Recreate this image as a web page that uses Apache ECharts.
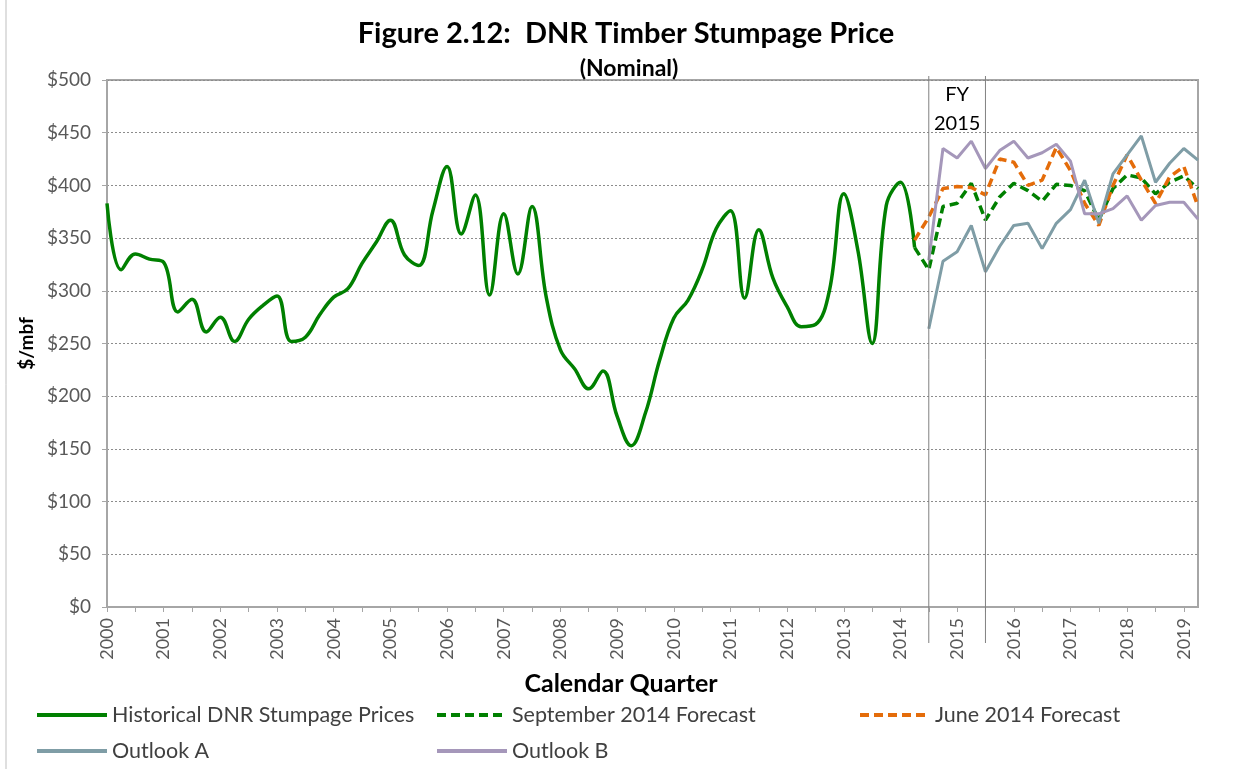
<!DOCTYPE html>
<html>
<head>
	<meta charset="UTF-8">
	<title>DNR Timber Stumpage Price</title>
	<script src="https://cdn.jsdelivr.net/npm/echarts@6/dist/echarts.min.js"></script>
	<style>
		html, body { margin: 0; padding: 0; background: #fff; }
		#main { width: 1245px; height: 769px; }
	</style>
</head>
<body>
<div id="main"></div>
<script type="text/javascript">
	// quarters 2000 Q1 .. 2019 Q2
	var years = [2000, 2001, 2002, 2003, 2004, 2005, 2006, 2007, 2008, 2009,
		2010, 2011, 2012, 2013, 2014, 2015, 2016, 2017, 2018, 2019];
	var quarters = [];
	years.forEach(function (y) {
		for (var q = 1; q <= 4; q++) quarters.push(y + ' Q' + q);
	});
	quarters = quarters.slice(0, 78);

	// $/mbf, starting at 2000 Q1
	var historical = [383, 320, 335, 330, 327, 280, 292, 261, 275, 252, 273, 286, 295, 252, 256, 277,
		294, 302, 326, 346, 367, 334, 324, 376, 418, 354, 391, 296, 373, 316, 380, 294,
		244, 226, 207, 224, 181, 153, 184, 234, 274, 291, 320, 359, 376, 293, 358, 312,
		285, 266, 268, 301, 392, 338, 250, 381, 403, 341];
	// forecasts, starting at 2014 Q2
	var sept2014 = [341, 320, 380, 383, 402, 367, 389, 402, 395, 385, 401, 400, 395, 367, 397, 410, 407, 392, 403, 409, 397];
	var june2014 = [348, 370, 397, 399, 398, 391, 425, 422, 400, 405, 436, 414, 383, 362, 400, 429, 405, 383, 408, 418, 380];
	// outlooks, starting at 2014 Q3
	var outlookA = [264, 328, 337, 362, 318, 342, 362, 364, 340, 364, 377, 405, 364, 411, 429, 447, 403, 421, 435, 424];
	var outlookB = [329, 435, 426, 442, 416, 433, 442, 426, 431, 439, 423, 373, 373, 378, 390, 367, 381, 384, 384, 368];
	// FY 2015 = 2014 Q3 .. 2015 Q3
	var fyStart = '2014 Q3', fyEnd = '2015 Q3';

	function pad(start, arr) {
		var out = [];
		for (var i = 0; i < quarters.length; i++) out.push(null);
		var s = quarters.indexOf(start);
		for (var j = 0; j < arr.length; j++) out[s + j] = arr[j];
		return out;
	}

	var font = 'Lato, "Open Sans", sans-serif';
	var myChart = echarts.init(document.getElementById('main'));

	function legendAt(name, left, top) {
		return {
			data: [name], left: left, top: top, padding: 0,
			itemWidth: 70, itemHeight: 12, itemGap: 6,
			itemStyle: { opacity: 0 },
			lineStyle: { width: 4 },
			textStyle: { fontFamily: font, fontSize: 21.5, color: '#404040' }
		};
	}

	var option = {
		animation: false,
		textStyle: { fontFamily: font },
		title: [
			{
				text: 'Figure 2.12:  DNR Timber Stumpage Price', left: 621, textAlign: 'center', top: 14,
				textStyle: { fontFamily: font, fontSize: 29, fontWeight: 'bold', color: '#000' }
			},
			{
				text: '(Nominal)', left: 624, textAlign: 'center', top: 52,
				textStyle: { fontFamily: font, fontSize: 23, fontWeight: 'bold', color: '#000' }
			},
			{
				text: 'Calendar Quarter', left: 616, textAlign: 'center', top: 666,
				textStyle: { fontFamily: font, fontSize: 25, fontWeight: 'bold', color: '#000' }
			}
		],
		legend: [
			legendAt('Historical DNR Stumpage Prices', 35, 704),
			legendAt('September 2014 Forecast', 435, 704),
			legendAt('June 2014 Forecast', 858, 704),
			legendAt('Outlook A', 35, 740),
			legendAt('Outlook B', 435, 740)
		],
		grid: {
			left: 107, right: 47, top: 80, bottom: 162,
			show: true, borderColor: '#A6A6A6', borderWidth: 2
		},
		xAxis: {
			type: 'category',
			data: quarters,
			boundaryGap: false,
			axisLine: { lineStyle: { color: '#A6A6A6', width: 2 } },
			axisTick: { interval: 1, length: 5, lineStyle: { color: '#A6A6A6' } },
			axisLabel: {
				interval: 3, rotate: 90, margin: 11,
				fontSize: 18, color: '#595959', fontFamily: font,
				formatter: function (v) { return v.slice(0, 4); }
			},
			splitLine: { show: false }
		},
		yAxis: {
			type: 'value',
			min: 0, max: 500, interval: 50,
			name: '$/mbf', nameLocation: 'middle', nameRotate: 90, nameGap: 46,
			nameTextStyle: { fontFamily: font, fontSize: 19, fontWeight: 'bold', color: '#000' },
			axisLine: { show: true, lineStyle: { color: '#A6A6A6', width: 2 } },
			axisTick: { show: true, length: 5, lineStyle: { color: '#A6A6A6' } },
			axisLabel: {
				fontSize: 19, color: '#595959', fontFamily: font, margin: 16,
				formatter: function (v) { return '$' + v; }
			},
			splitLine: { lineStyle: { color: '#8C8C8C', type: [2, 2], width: 1 } }
		},
		series: [
			{
				name: 'Historical DNR Stumpage Prices', type: 'line',
				data: pad('2000 Q1', historical), smooth: 0.4, symbol: 'none',
				lineStyle: { color: '#008000', width: 3.5 }, itemStyle: { color: '#008000' }
			},
			{
				name: 'September 2014 Forecast', type: 'line',
				data: pad('2014 Q2', sept2014), symbol: 'none',
				lineStyle: { color: '#008000', width: 3.5, type: [9, 5] }, itemStyle: { color: '#008000' }
			},
			{
				name: 'June 2014 Forecast', type: 'line',
				data: pad('2014 Q2', june2014), symbol: 'none',
				lineStyle: { color: '#E46C0A', width: 3.5, type: [9, 5] }, itemStyle: { color: '#E46C0A' }
			},
			{
				name: 'Outlook A', type: 'line',
				data: pad('2014 Q3', outlookA), symbol: 'none',
				lineStyle: { color: '#7F9DA6', width: 3 }, itemStyle: { color: '#7F9DA6' }
			},
			{
				name: 'Outlook B', type: 'line',
				data: pad('2014 Q3', outlookB), symbol: 'none',
				lineStyle: { color: '#A597BA', width: 3 }, itemStyle: { color: '#A597BA' }
			}
		]
	};

	myChart.setOption(option);

	// FY 2015 bracket lines and label
	var x1 = myChart.convertToPixel({ xAxisIndex: 0 }, fyStart);
	var x2 = myChart.convertToPixel({ xAxisIndex: 0 }, fyEnd);
	myChart.setOption({
		graphic: [
			{ type: 'line', shape: { x1: 6, y1: 0, x2: 6, y2: 769 }, style: { stroke: '#BFBFBF', lineWidth: 1 } },
			{ type: 'line', shape: { x1: x1, y1: 76, x2: x1, y2: 643 }, style: { stroke: '#808080', lineWidth: 1 }, z: 10 },
			{ type: 'line', shape: { x1: x2, y1: 76, x2: x2, y2: 643 }, style: { stroke: '#808080', lineWidth: 1 }, z: 10 },
			{
				type: 'text', x: (x1 + x2) / 2, y: 80, z: 10,
				style: {
					text: 'FY\n2015', fill: '#000', font: '20px ' + font,
					textAlign: 'center', textVerticalAlign: 'top', lineHeight: 29
				}
			}
		]
	});
</script>
</body>
</html>
